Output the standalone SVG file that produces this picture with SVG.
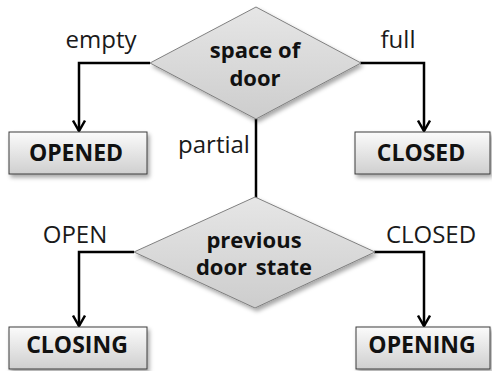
<svg xmlns="http://www.w3.org/2000/svg" width="492" height="371" viewBox="0 0 492 371">
  <style>
    .lbl { font-family: "Open Sans", "Liberation Sans", sans-serif; font-size: 24px; fill: #1a1a1a; text-anchor: middle; }
    .bold { font-family: "Open Sans", "Liberation Sans", sans-serif; font-size: 22px; font-weight: bold; fill: #111; text-anchor: middle; }
    .name { font-size: 23px; }
    .state { fill: url(#boxFill); stroke: #3c3c3c; stroke-width: 1; filter: url(#shadow); }
    .decision { fill: url(#diaFill); stroke: #808080; stroke-width: 1; filter: url(#shadow); }
    .edge { fill: none; stroke: #000; stroke-width: 2.5; marker-end: url(#arrow); }
  </style>
  <defs>
    <linearGradient id="boxFill" x1="0" y1="0" x2="0" y2="1">
      <stop offset="0" stop-color="#fbfbfb"/>
      <stop offset="1" stop-color="#cfcfcf"/>
    </linearGradient>
    <linearGradient id="diaFill" x1="0" y1="0" x2="0" y2="1">
      <stop offset="0" stop-color="#e6e6e6"/>
      <stop offset="1" stop-color="#cdcdcd"/>
    </linearGradient>
    <filter id="shadow" x="-10%" y="-10%" width="130%" height="140%">
      <feDropShadow dx="2" dy="3" stdDeviation="2" flood-color="#000" flood-opacity="0.35"/>
    </filter>
    <marker id="arrow" markerUnits="userSpaceOnUse" viewBox="0 0 14 14" refX="12" refY="7" markerWidth="14" markerHeight="14" orient="auto">
      <path d="M1.5,1 L12,7 L1.5,13" fill="none" stroke="#000" stroke-width="2.5"/>
    </marker>
  </defs>

  <!-- connectors -->
  <g id="connectors">
    <path class="edge" d="M150,63 H79 V131"/>
    <path class="edge" d="M360,63 H424 V131"/>
    <path d="M256,119 V198" fill="none" stroke="#000" stroke-width="2.5"/>
    <path class="edge" d="M134,252 H79 V326"/>
    <path class="edge" d="M374,252 H424 V326"/>
    <text class="lbl" x="101" y="48">empty</text>
    <text class="lbl" x="398" y="48">full</text>
    <text class="lbl" x="214" y="153">partial</text>
    <text class="lbl" x="75" y="243">OPEN</text>
    <text class="lbl" x="431" y="243">CLOSED</text>
  </g>

  <!-- decision: space of door -->
  <g id="space-of-door">
    <polygon class="decision" points="256,7 361,63 256,119 150,63"/>
    <text class="bold" x="255" y="58">space of</text>
    <text class="bold" x="255" y="86">door</text>
  </g>

  <!-- decision: previous door state -->
  <g id="previous-door-state">
    <polygon class="decision" points="255,197 375,252 255,308 134,252"/>
    <text class="bold" x="254" y="248">previous</text>
    <text class="bold" x="254" y="275" word-spacing="3">door state</text>
  </g>

  <!-- states -->
  <g id="opened">
    <rect class="state" x="9" y="132" width="138" height="42"/>
    <text class="bold name" x="76" y="161">OPENED</text>
  </g>
  <g id="closed">
    <rect class="state" x="355" y="132" width="135" height="42"/>
    <text class="bold name" x="421" y="161">CLOSED</text>
  </g>
  <g id="closing">
    <rect class="state" x="9" y="327" width="138" height="42"/>
    <text class="bold name" x="77" y="353">CLOSING</text>
  </g>
  <g id="opening">
    <rect class="state" x="356" y="327" width="134" height="42"/>
    <text class="bold name" x="422" y="353">OPENING</text>
  </g>
</svg>
